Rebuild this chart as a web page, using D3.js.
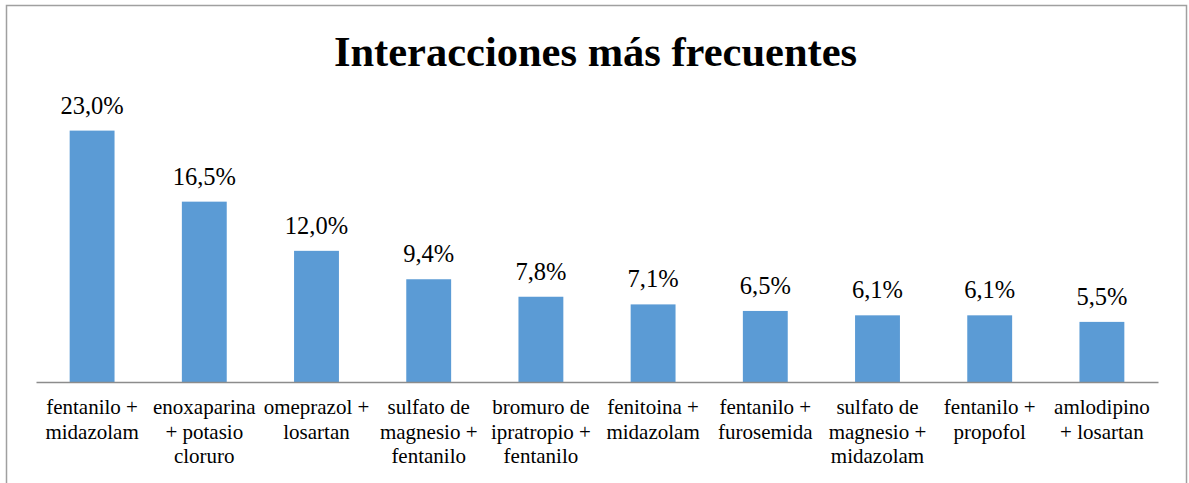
<!DOCTYPE html>
<html>
<head>
<meta charset="utf-8">
<script src="https://cdn.jsdelivr.net/npm/d3@7"></script>
<style>
  html, body { margin: 0; padding: 0; background: #ffffff; }
  svg { display: block; }
  text { font-family: "Liberation Serif", "Times New Roman", Times, serif; }
</style>
</head>
<body>
<svg id="chart" width="1189" height="483"></svg>
<script>
const title = "Interacciones más frecuentes";
const categories = [
  "fentanilo +\nmidazolam",
  "enoxaparina\n+ potasio\ncloruro",
  "omeprazol +\nlosartan",
  "sulfato de\nmagnesio +\nfentanilo",
  "bromuro de\nipratropio +\nfentanilo",
  "fenitoina +\nmidazolam",
  "fentanilo +\nfurosemida",
  "sulfato de\nmagnesio +\nmidazolam",
  "fentanilo +\npropofol",
  "amlodipino\n+ losartan"
];
const values = [23.0, 16.5, 12.0, 9.4, 7.8, 7.1, 6.5, 6.1, 6.1, 5.5];
const valueLabels = ["23,0%", "16,5%", "12,0%", "9,4%", "7,8%", "7,1%", "6,5%", "6,1%", "6,1%", "5,5%"];

const svg = d3.select("#chart");

// outer border
svg.append("rect")
  .attr("x", 6.5).attr("y", 5.5)
  .attr("width", 1180).attr("height", 500)
  .attr("fill", "#ffffff")
  .attr("stroke", "#a0a0a0").attr("stroke-width", 1.5);

const left = 36, right = 1158, baseY = 382;

const x = d3.scaleBand()
  .domain(d3.range(categories.length))
  .range([left, right])
  .paddingInner(0.6)
  .paddingOuter(0.3);

const y = d3.scaleLinear()
  .domain([0, 25])
  .range([baseY, baseY - 25 * 10.93]);

// title
svg.append("text")
  .attr("x", 595.5).attr("y", 66)
  .attr("text-anchor", "middle")
  .attr("font-weight", "bold")
  .attr("font-size", 42.5)
  .attr("fill", "#000")
  .text(title);

// bars
svg.append("g").selectAll("rect")
  .data(values)
  .join("rect")
  .attr("x", (d, i) => x(i))
  .attr("y", d => y(d))
  .attr("width", x.bandwidth())
  .attr("height", d => baseY - y(d))
  .attr("fill", "#5B9BD5");

// value labels
svg.append("g").selectAll("text")
  .data(values)
  .join("text")
  .attr("x", (d, i) => x(i) + x.bandwidth() / 2)
  .attr("y", d => y(d) - 17)
  .attr("text-anchor", "middle")
  .attr("font-size", 24.5)
  .attr("fill", "#000")
  .text((d, i) => valueLabels[i]);

// x axis
const xAxis = d3.axisBottom(x).tickSize(0).tickFormat("");
const gx = svg.append("g")
  .attr("transform", `translate(0,${baseY})`)
  .call(xAxis);
gx.select(".domain").attr("stroke", "#8c8c8c").attr("stroke-width", 1.3);

// category labels (multi-line)
const labG = svg.append("g");
categories.forEach((c, i) => {
  const t = labG.append("text")
    .attr("text-anchor", "middle")
    .attr("font-size", 21)
    .attr("fill", "#000");
  c.split("\n").forEach((line, j) => {
    t.append("tspan")
      .attr("x", x(i) + x.bandwidth() / 2)
      .attr("y", 414 + j * 24.5)
      .text(line);
  });
});
</script>
</body>
</html>
